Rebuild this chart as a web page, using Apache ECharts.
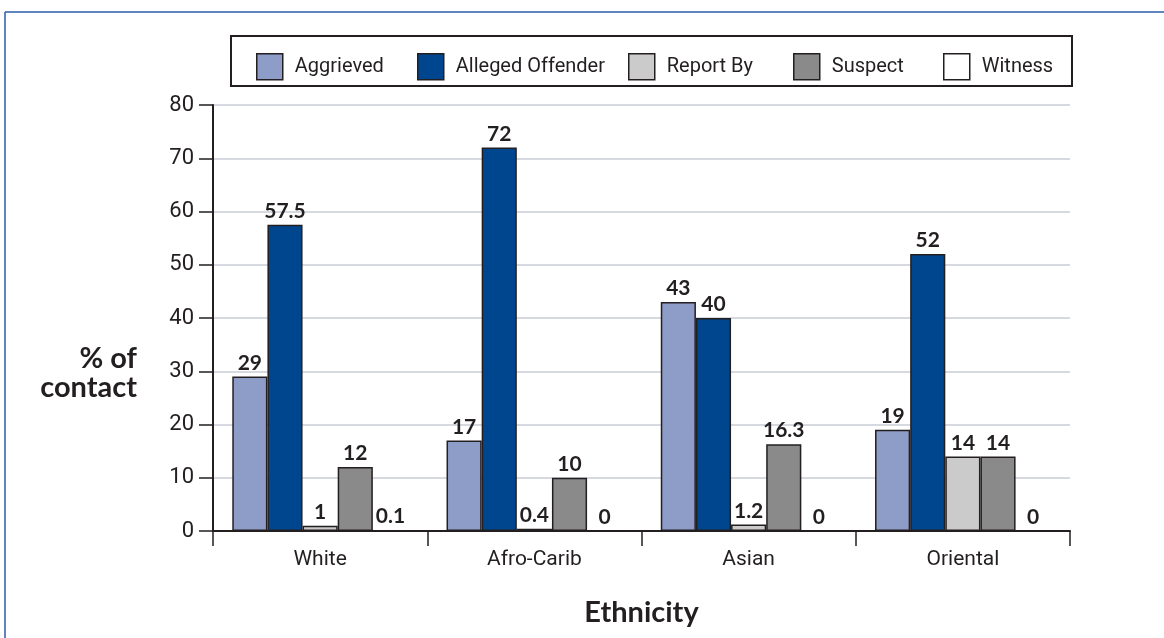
<!DOCTYPE html>
<html>
<head>
<meta charset="utf-8">
<style>
  html, body { margin: 0; padding: 0; background: #ffffff; }
  #chart { width: 1164px; height: 638px; }
</style>
<script src="https://cdn.jsdelivr.net/npm/echarts@6/dist/echarts.min.js"></script>
</head>
<body>
<div id="chart"></div>
<script>
// Percentage of contact by ethnicity and role
const categories = ['White', 'Afro-Carib', 'Asian', 'Oriental'];
const aggrieved = [29, 17, 43, 19];
const allegedOffender = [57.5, 72, 40, 52];
const reportBy = [1, 0.4, 1.2, 14];
const suspect = [12, 10, 16.3, 14];
const witness = [0.1, 0, 0, 0];
const yTicks = { min: 0, max: 80, interval: 10 };

const plain = 'Roboto, "Liberation Sans", sans-serif';
const boldFace = 'Lato, "Open Sans", sans-serif';
const ink = '#231f20';

function barSeries(name, data, color) {
  return {
    name: name,
    type: 'bar',
    data: data,
    barGap: '0%',
    barCategoryGap: '18%',
    itemStyle: { color: color, borderColor: ink, borderWidth: 1.5 },
    label: {
      show: true,
      position: 'top',
      distance: 3,
      color: ink,
      fontFamily: boldFace,
      fontWeight: 'bold',
      fontSize: 21
    }
  };
}

function legendItem(name, left) {
  return {
    data: [name],
    left: left,
    top: 48,
    itemWidth: 26,
    itemHeight: 26,
    itemGap: 0,
    icon: 'rect',
    selectedMode: false,
    itemStyle: { borderColor: ink, borderWidth: 1.5 },
    textStyle: { fontFamily: plain, fontSize: 20, color: ink, padding: [0, 0, 0, 7] }
  };
}

const chart = echarts.init(document.getElementById('chart'), null, { renderer: 'canvas' });
chart.setOption({
  backgroundColor: '#ffffff',
  animation: false,
  grid: { left: 213, right: 94, top: 105, bottom: 107 },
  legend: [
    legendItem('Aggrieved', 251),
    legendItem('Alleged Offender', 412),
    legendItem('Report By', 623),
    legendItem('Suspect', 788),
    legendItem('Witness', 938)
  ],
  xAxis: {
    type: 'category',
    data: categories,
    axisLine: { lineStyle: { color: ink, width: 2 } },
    axisTick: { show: true, length: 15, interval: 0, lineStyle: { color: ink, width: 1.5 } },
    axisLabel: { margin: 18, fontFamily: plain, fontSize: 21, color: ink },
    name: 'Ethnicity',
    nameLocation: 'middle',
    nameGap: 67,
    nameTextStyle: { fontFamily: boldFace, fontWeight: 'bold', fontSize: 29, color: ink }
  },
  yAxis: {
    type: 'value',
    min: yTicks.min,
    max: yTicks.max,
    interval: yTicks.interval,
    axisLine: { show: true, lineStyle: { color: ink, width: 2 } },
    axisTick: { show: true, length: 14, lineStyle: { color: ink, width: 1.5 } },
    axisLabel: { margin: 19, fontFamily: plain, fontSize: 22, color: ink },
    splitLine: { lineStyle: { color: '#c9ced6', width: 1.5 } }
  },
  graphic: [
    { type: 'line', shape: { x1: 5, y1: 12, x2: 1164, y2: 12 }, style: { stroke: '#2a5ba8', lineWidth: 1.5 } },
    { type: 'line', shape: { x1: 5, y1: 12, x2: 5, y2: 638 }, style: { stroke: '#2a5ba8', lineWidth: 1.5 } },
    { type: 'rect', shape: { x: 231, y: 36, width: 841, height: 50 }, style: { fill: 'none', stroke: ink, lineWidth: 2 }, z: 10 },
    {
      type: 'text', x: 137, y: 373,
      style: { text: '% of', align: 'right', verticalAlign: 'bottom', fill: ink, font: 'bold 29px ' + boldFace }
    },
    {
      type: 'text', x: 137, y: 402,
      style: { text: 'contact', align: 'right', verticalAlign: 'bottom', fill: ink, font: 'bold 29px ' + boldFace }
    }
  ],
  series: [
    barSeries('Aggrieved', aggrieved, '#8e9dc7'),
    barSeries('Alleged Offender', allegedOffender, '#00468f'),
    barSeries('Report By', reportBy, '#cbcbcb'),
    barSeries('Suspect', suspect, '#8a8a8a'),
    barSeries('Witness', witness, '#ffffff')
  ]
});
</script>
</body>
</html>
